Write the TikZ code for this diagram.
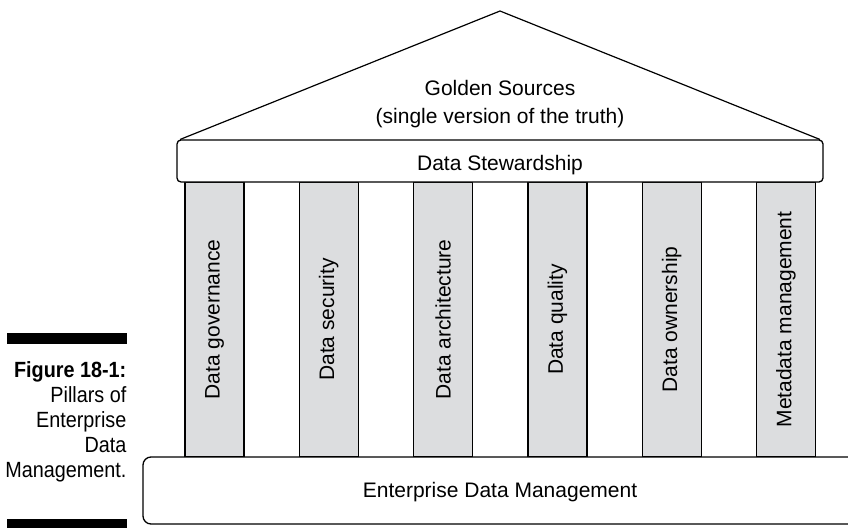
\documentclass[tikz,border=0pt]{standalone}
\usepackage{fontspec}
\setmainfont{Liberation Sans}
\newfontfamily\capfont{Liberation Sans}[FakeStretch=0.9]
\definecolor{pillargray}{HTML}{DCDDDF}
\begin{document}
\begin{tikzpicture}[x=1pt,y=-1pt,line width=1.3pt,
  pillar/.style={draw, fill=pillargray, rotate=90, minimum width=275pt, minimum height=59pt, inner sep=0pt, font=\fontsize{21}{25}\selectfont},
  box/.style={draw, fill=white, inner sep=0pt},
  txt/.style={anchor=base, inner sep=0pt, font=\fontsize{21}{25}\selectfont},
  captxt/.style={anchor=base east, inner sep=0pt, font=\capfont\fontsize{22}{25}\selectfont},
  capbar/.style={fill=black, inner sep=0pt}]
\useasboundingbox (0,0) rectangle (848,527);
\clip (0,0) rectangle (848,527);
% caption bars
\node[capbar, minimum width=120pt, minimum height=11pt] (bartop) at (67,338.5) {};
\node[capbar, minimum width=120pt, minimum height=10pt] (barbot) at (67,524) {};
\node[captxt] (c1) at (127,377) {\textbf{Figure 18-1:}};
\node[captxt] (c2) at (127,402) {Pillars of};
\node[captxt] (c3) at (127,427) {Enterprise};
\node[captxt] (c4) at (127,452) {Data};
\node[captxt] (c5) at (127,477) {Management.};
% pillars
\node[pillar] (p1) at (214.5,319.5) {Data governance};
\node[pillar] (p2) at (328.8,319.5) {Data security};
\node[pillar] (p3) at (443.1,319.5) {Data architecture};
\node[pillar] (p4) at (557.4,319.5) {Data quality};
\node[pillar] (p5) at (671.7,319.5) {Data ownership};
\node[pillar] (p6) at (786,319.5) {Metadata management};
% roof
\coordinate (apex) at (500,11);
\coordinate (rl) at (180,139.5);
\coordinate (rr) at (820,139.5);
\draw[line width=1.2pt] (rl) -- (apex) -- (rr);
\node[txt] (gold1) at (500,95) {Golden Sources};
\node[txt] (gold2) at (500,123) {(single version of the truth)};
% stewardship
\node[box, rounded corners=4pt, minimum width=646pt, minimum height=42pt] (stew) at (500,161) {};
\node[txt] (stewt) at (500,170) {Data Stewardship};
% base
\node[box, rounded corners=8pt, minimum width=714pt, minimum height=67pt] (base) at (500,490.5) {};
\node[txt] (baset) at (500,497) {Enterprise Data Management};
\end{tikzpicture}
\end{document}
